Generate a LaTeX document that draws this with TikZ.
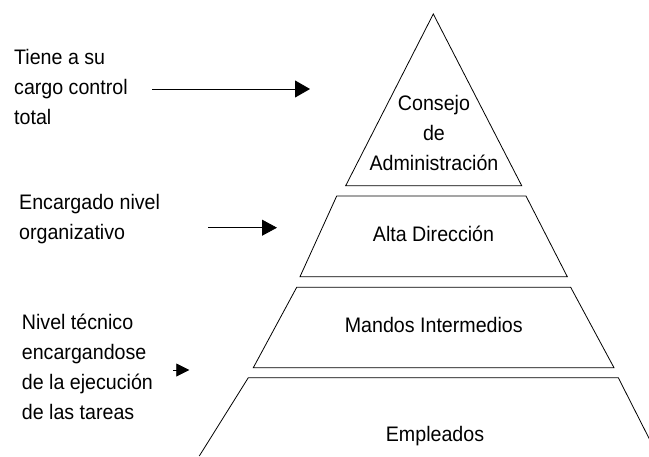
\documentclass[tikz,border=0pt]{standalone}
\usepackage{fontspec}
\setmainfont{Liberation Sans}[FakeStretch=0.935]
\usetikzlibrary{arrows.meta}
\begin{document}
\begin{tikzpicture}[x=1pt,y=-1pt,
  lvl/.style={draw=black,line width=0.8pt,line join=miter},
  lbl/.style={font=\fontsize{21}{30}\selectfont, inner sep=0pt},
  side/.style={lbl,align=left,anchor=base west},
  mid/.style={lbl,align=center,anchor=base},
  ptr/.style={line width=0.8pt,-{Triangle[length=15pt,width=17pt]}}]
\useasboundingbox (0,0) rectangle (649,456);
\fill[white] (0,0) rectangle (649,456);
% pyramid levels
\draw[lvl] (433.3,14) -- (521.7,185.7) -- (345.7,185.7) -- cycle;
\draw[lvl] (336.7,196) -- (526,196) -- (567.3,276.7) -- (300,276.7) -- cycle;
\draw[lvl] (296.7,287.3) -- (570.7,287.3) -- (614,367.7) -- (253.3,367.7) -- cycle;
\begin{scope}
\clip (0,0) rectangle (649,456);
\draw[lvl] (199.3,456) -- (248.3,377.7) -- (618.3,377.7) -- (658,456);
\end{scope}
% level labels (anchored at the baseline of the last line)
\node[mid] (consejo) at (434,170.5) {Consejo\\de\\Administración};
\node[mid] (alta) at (433.5,241.7) {Alta Dirección};
\node[mid] (mandos) at (433.8,332.7) {Mandos Intermedios};
\node[mid] (empleados) at (435,441.7) {Empleados};
% side labels
\node[side] (t1) at (14,124) {Tiene a su\\cargo control\\total};
\node[side] (t2) at (19,239) {Encargado nivel\\organizativo};
\node[side] (t3) at (21.7,419.5) {Nivel técnico\\encargandose\\de la ejecución\\de las tareas};
% arrows
\coordinate (a1s) at (152,89);
\coordinate (a1e) at (310,89);
\coordinate (a2s) at (208,227.7);
\coordinate (a2e) at (277,227.7);
\coordinate (a3s) at (173,370);
\coordinate (a3e) at (189.3,370);
\draw[ptr] (a1s) -- (a1e);
\draw[line width=0.8pt,-{Triangle[length=15pt,width=16pt]}] (a2s) -- (a2e);
\draw[line width=0.8pt,-{Triangle[length=13pt,width=13pt]}] (a3s) -- (a3e);
\end{tikzpicture}
\end{document}
